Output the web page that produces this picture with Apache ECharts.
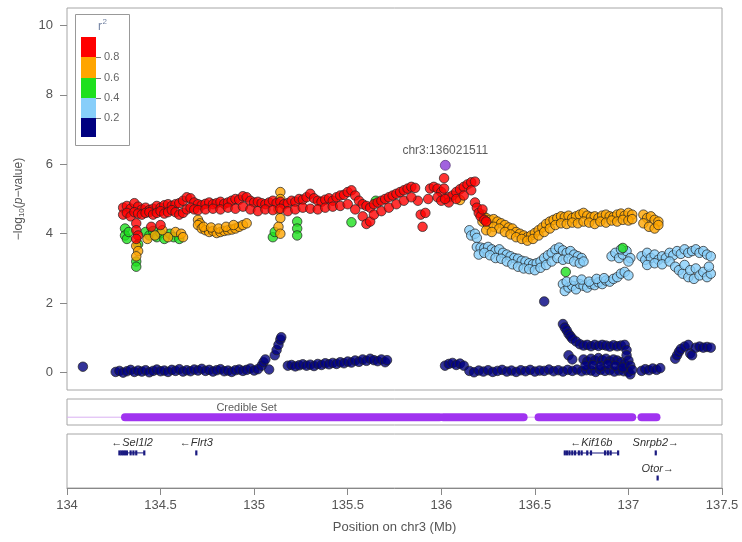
<!DOCTYPE html>
<html><head><meta charset="utf-8">
<script src="https://cdn.jsdelivr.net/npm/echarts@6/dist/echarts.min.js"></script>
<style>html,body{margin:0;padding:0;background:#fff}#c{width:742px;height:542px}</style>
</head><body><div id="c"></div>
<script>
// ---------- DATA ----------
const xTicks = [134, 134.5, 135, 135.5, 136, 136.5, 137, 137.5];
const yTicks = [0, 2, 4, 6, 8, 10];
const r2Labels = ['0.8', '0.6', '0.4', '0.2'];

const leadSnp = [[136.021511, 5.97]];
const leadName = 'chr3:136021511';

const navyPts = [
[134.085,0.17],
[134.26,0.02],[134.28,0.05],[134.30,0.00],[134.32,0.04],[134.34,0.08],[134.36,0.02],[134.38,0.06],[134.40,0.03],[134.42,0.07],[134.44,0.01],[134.46,0.05],[134.48,0.09],[134.50,0.04],[134.52,0.06],[134.54,0.02],[134.56,0.08],[134.58,0.05],[134.60,0.10],[134.62,0.03],[134.64,0.07],[134.66,0.04],[134.68,0.09],[134.70,0.06],[134.72,0.11],[134.74,0.05],[134.76,0.08],[134.78,0.03],[134.80,0.07],[134.82,0.10],[134.84,0.04],[134.86,0.06],[134.88,0.02],[134.90,0.07],[134.92,0.09],[134.94,0.05],[134.96,0.08],[134.98,0.12],[135.00,0.06],[135.02,0.10],
[135.04,0.20],[135.05,0.30],[135.06,0.38],[135.08,0.09],
[135.11,0.50],[135.12,0.65],[135.13,0.80],[135.14,0.95],[135.145,1.02],
[135.18,0.20],[135.20,0.22],[135.22,0.18],[135.24,0.21],[135.26,0.24],[135.28,0.20],[135.30,0.23],[135.32,0.19],[135.34,0.25],[135.36,0.22],[135.38,0.27],[135.40,0.24],[135.42,0.28],[135.44,0.25],[135.46,0.30],[135.48,0.27],[135.50,0.32],[135.52,0.29],[135.54,0.35],[135.56,0.31],[135.58,0.38],[135.60,0.34],[135.62,0.40],[135.64,0.36],[135.66,0.33],[135.68,0.38],[135.70,0.30],[135.71,0.36],
[136.02,0.20],[136.04,0.25],[136.06,0.28],[136.08,0.22],[136.10,0.26],[136.12,0.20],
[136.15,0.05],[136.175,0.01],[136.20,0.06],[136.225,0.03],[136.25,0.07],[136.275,0.02],[136.30,0.05],[136.325,0.08],[136.35,0.03],[136.375,0.06],[136.40,0.02],[136.425,0.07],[136.45,0.04],[136.475,0.08],[136.50,0.03],[136.525,0.06],[136.55,0.05],[136.575,0.09],[136.60,0.04],[136.625,0.07],[136.65,0.03],[136.675,0.08],[136.70,0.05],[136.725,0.09],[136.75,0.04],[136.775,0.07],[136.80,0.06],[136.825,0.02],[136.85,0.08],[136.875,0.05],[136.90,0.07],[136.925,0.03],[136.95,0.06],[136.975,0.04],[137.00,0.02],[137.01,-0.05],
[136.76,0.38],[136.78,0.32],[136.80,0.40],[136.82,0.35],[136.84,0.42],[136.86,0.36],[136.88,0.40],[136.90,0.33],[136.92,0.38],[136.94,0.35],[136.96,0.30],[136.98,0.25],
[136.77,0.20],[136.81,0.22],[136.85,0.18],[136.89,0.24],[136.93,0.20],[136.97,0.15],
[136.68,0.50],[136.70,0.38],
[136.65,1.40],[136.66,1.30],[136.67,1.22],[136.68,1.12],[136.69,1.05],[136.70,0.98],[136.72,0.90],
[136.74,0.82],[136.76,0.78],[136.78,0.80],[136.80,0.76],[136.82,0.80],[136.84,0.77],[136.86,0.80],[136.88,0.78],[136.90,0.75],[136.92,0.79],[136.94,0.76],[136.96,0.78],[136.98,0.80],
[136.99,0.65],[136.99,0.50],[137.00,0.35],[137.01,0.20],[137.02,0.08],
[137.07,0.05],[137.09,0.10],[137.11,0.07],[137.13,0.12],[137.15,0.08],[137.17,0.13],
[137.25,0.40],[137.26,0.50],[137.27,0.60],[137.28,0.68],[137.30,0.75],[137.32,0.80],[137.33,0.55],[137.34,0.50],[137.36,0.72],[137.38,0.75],[137.40,0.72],[137.42,0.74],[137.44,0.72],
[136.55,2.05]
];

const lightBluePts = [
[136.15,4.10],[136.16,3.95],[136.18,4.00],[136.19,3.88],
[136.19,3.62],[136.21,3.60],[136.23,3.58],[136.25,3.62],[136.27,3.55],[136.29,3.50],[136.31,3.55],[136.33,3.45],[136.35,3.40],[136.37,3.35],[136.39,3.30],[136.41,3.28],[136.43,3.22],[136.45,3.20],[136.47,3.15],[136.49,3.12],[136.51,3.15],[136.53,3.20],[136.55,3.30],[136.57,3.38],[136.59,3.45],[136.61,3.55],[136.63,3.60],[136.65,3.52],[136.67,3.45],[136.69,3.50],[136.71,3.40],[136.73,3.35],[136.75,3.30],
[136.20,3.40],[136.23,3.45],[136.26,3.38],[136.29,3.30],[136.32,3.28],[136.35,3.20],[136.38,3.12],[136.41,3.05],[136.44,3.00],[136.47,2.98],[136.50,2.95],[136.53,3.02],[136.56,3.10],[136.59,3.20],[136.62,3.30],[136.65,3.25],[136.68,3.28],[136.71,3.20],[136.74,3.15],[136.76,3.20],
[136.65,2.55],[136.66,2.35],[136.68,2.45],[136.70,2.50],[136.72,2.40],[136.74,2.55],[136.76,2.50],[136.78,2.45],[136.80,2.55],[136.82,2.52],[136.84,2.60],[136.86,2.55],[136.88,2.65],[136.90,2.62],[136.92,2.70],[136.94,2.75],[136.96,2.85],[136.98,2.90],[137.00,2.80],
[136.67,2.62],[136.71,2.65],[136.75,2.68],[136.79,2.62],[136.83,2.70],[136.87,2.72],
[136.91,3.35],[136.93,3.45],[136.95,3.30],[136.97,3.40],[136.99,3.50],[137.01,3.30],[137.00,3.20],[136.96,3.55],
[137.07,3.35],[137.09,3.25],[137.10,3.45],[137.12,3.30],[137.14,3.40],[137.16,3.25],[137.18,3.35],[137.20,3.30],[137.22,3.45],[137.24,3.38],[137.26,3.50],[137.28,3.42],[137.30,3.55],[137.32,3.45],[137.34,3.50],[137.36,3.55],[137.38,3.45],[137.40,3.50],[137.42,3.40],[137.44,3.35],
[137.10,3.10],[137.14,3.15],[137.18,3.12],[137.22,3.20],[137.25,3.05],[137.27,2.95],[137.29,2.85],[137.30,3.10],[137.32,2.75],[137.33,2.95],[137.35,2.70],[137.36,3.00],[137.38,2.80],[137.40,2.90],[137.42,2.75],[137.44,2.85],[137.43,3.05]
];

const greenPts = [
[134.31,4.15],[134.31,3.95],[134.32,3.85],[134.33,4.05],[134.37,3.20],[134.37,3.05],[134.38,3.70],
[134.42,4.05],[134.44,3.95],[134.46,4.08],[134.48,3.90],[134.50,4.02],[134.52,3.85],[134.55,4.00],[134.57,3.90],[134.60,3.85],
[135.10,3.90],[135.11,4.05],[135.23,4.35],[135.23,4.15],[135.23,3.95],[135.52,4.33],[135.65,4.95],
[136.665,2.90],[136.97,3.59]
];

const orangePts = [
[134.37,3.65],[134.38,3.50],[134.37,3.35],[134.43,3.85],[134.47,3.95],[134.51,4.10],[134.54,3.90],[134.58,4.05],[134.61,4.00],[134.62,3.90],
[134.70,4.40],[134.71,4.30],[134.70,4.25],[134.72,4.15],[134.74,4.10],[134.76,4.05],[134.78,4.08],[134.80,4.02],[134.82,4.05],[134.84,4.08],[134.86,4.10],[134.88,4.12],[134.90,4.15],[134.92,4.20],[134.94,4.25],[134.96,4.30],
[134.73,4.20],[134.77,4.18],[134.81,4.15],[134.85,4.20],[134.89,4.25],
[135.14,5.20],[135.14,5.00],[135.13,4.70],[135.14,4.45],[135.13,4.20],[135.14,4.00],
[136.10,4.97],
[136.22,4.55],[136.24,4.45],[136.26,4.40],[136.28,4.42],[136.30,4.35],[136.32,4.30],[136.34,4.25],[136.36,4.18],[136.38,4.15],[136.40,4.05],[136.42,4.00],[136.44,3.95],[136.46,3.90],[136.48,3.95],[136.50,4.02],[136.52,4.10],[136.54,4.18],[136.56,4.28],[136.58,4.35],[136.60,4.40],[136.62,4.45],[136.64,4.50],[136.66,4.48],[136.68,4.52],[136.70,4.45],[136.72,4.50],[136.74,4.55],[136.76,4.60],[136.78,4.52],[136.80,4.48],[136.82,4.50],[136.84,4.45],[136.86,4.52],[136.88,4.55],[136.90,4.50],[136.92,4.48],[136.94,4.55],[136.96,4.58],[136.98,4.52],[137.00,4.60],[137.02,4.55],[137.08,4.55],[137.10,4.45],[137.12,4.50],[137.14,4.40],[137.16,4.35],
[136.22,4.35],[136.25,4.25],[136.28,4.20],[136.31,4.15],[136.34,4.05],[136.37,3.98],[136.40,3.90],[136.43,3.85],[136.46,3.80],[136.49,3.85],[136.52,3.95],[136.55,4.05],[136.58,4.15],[136.61,4.25],[136.64,4.30],[136.67,4.28],[136.70,4.32],[136.73,4.30],[136.76,4.35],[136.79,4.32],[136.82,4.28],[136.85,4.35],[136.88,4.32],[136.91,4.38],[136.94,4.35],[136.97,4.40],[137.00,4.38],[137.02,4.42],[137.08,4.30],[137.11,4.20],[137.14,4.15],[137.16,4.25],
[136.24,4.10],[136.27,4.05]
];

const redPts = [
[134.30,4.75],[134.32,4.80],[134.34,4.72],[134.36,4.88],[134.38,4.78],[134.40,4.70],[134.42,4.75],[134.44,4.68],[134.46,4.72],[134.48,4.80],[134.50,4.75],[134.52,4.82],[134.54,4.85],[134.56,4.80],[134.58,4.85],[134.60,4.88],[134.62,4.95],[134.64,5.05],[134.66,5.02],[134.68,4.90],[134.70,4.85],[134.72,4.82],[134.74,4.86],[134.76,4.90],[134.78,4.85],[134.80,4.88],[134.82,4.92],[134.84,4.86],[134.86,4.90],[134.88,4.95],[134.90,5.00],[134.92,4.98],[134.94,5.08],[134.96,5.05],[134.98,4.95],[135.00,4.90],[135.02,4.92],[135.04,4.88],[135.06,4.85],[135.08,4.90],[135.10,4.95],[135.12,4.88],[135.14,4.92],[135.16,4.85],[135.18,4.88],[135.20,4.95],[135.22,4.92],[135.24,5.00],[135.26,4.98],[135.28,5.05],[135.30,5.15],[135.32,5.02],[135.34,4.95],[135.36,4.92],[135.38,4.98],[135.40,5.02],[135.42,4.95],[135.44,5.05],[135.46,5.10],[135.48,5.12],[135.50,5.20],[135.52,5.25],[135.54,5.10],[135.56,4.95],[135.58,4.85],[135.60,4.80],[135.62,4.75],[135.64,4.85],[135.66,4.90],[135.68,4.95],[135.70,5.00],[135.72,5.05],[135.74,5.10],[135.76,5.15],[135.78,5.20],[135.80,5.25],[135.82,5.30],[135.84,5.35],[135.86,5.32],[135.875,4.95],[135.89,4.55],[135.90,4.20],[135.915,4.60],[135.93,5.00],[135.94,5.30],[135.96,5.35],[135.98,5.30],[136.00,5.20],[136.04,5.05],[136.06,5.10],[136.08,5.20],[136.10,5.28],[136.12,5.35],[136.14,5.42],[136.16,5.48],[136.18,5.50],
[134.30,4.55],[134.32,4.60],[134.34,4.50],[134.36,4.62],[134.38,4.58],[134.40,4.55],[134.42,4.60],[134.44,4.62],[134.46,4.55],[134.48,4.60],[134.50,4.65],[134.52,4.58],[134.54,4.62],[134.56,4.68],[134.58,4.62],[134.60,4.55],[134.62,4.60],[134.64,4.70],[134.66,4.75],[134.68,4.70],[134.70,4.68],[134.74,4.70],[134.78,4.72],[134.82,4.70],[134.86,4.75],[134.90,4.72],[134.94,4.78],[134.98,4.70],[135.02,4.65],[135.06,4.70],[135.10,4.68],[135.14,4.72],[135.18,4.65],[135.22,4.70],[135.26,4.75],[135.30,4.72],[135.34,4.70],[135.38,4.75],[135.42,4.78],[135.46,4.80],[135.50,4.85],[135.54,4.70],[135.58,4.50],[135.60,4.28],[135.62,4.35],[135.64,4.55],[135.68,4.65],[135.72,4.75],[135.76,4.85],[135.80,4.95],[135.84,5.05],[135.98,5.05],[136.00,4.95],[136.04,4.90],[136.08,5.00],[136.12,5.10],[136.16,5.25],
[134.37,4.30],[134.37,4.10],[134.38,3.95],[134.37,3.85],[134.45,4.20],[134.50,4.25],
[136.015,5.60],[136.015,5.30],[136.02,5.00],
[136.18,4.90],[136.19,4.75],[136.20,4.60],[136.21,4.50],[136.22,4.70],[136.23,4.40],[136.24,4.35]
];

const credibleStarts = [134.31, 136.01, 136.52, 137.07];
const credibleEnds   = [135.99, 136.44, 137.02, 137.15];
const credibleLineRange = [134.0, 137.16];

const geneNames   = ['Sel1l2', 'Flrt3', 'Kif16b', 'Snrpb2', 'Otor'];
const geneStarts  = [134.28, 134.688, 136.655, 137.143, 137.155];
const geneEnds    = [134.415, 134.694, 136.948, 137.150, 137.158];
const geneStrands = ['-', '-', '-', '+', '+'];
const geneRows    = [0, 0, 0, 0, 1];
const geneExons   = [
  [134.28,134.29,134.30,134.31,134.32,134.34,134.355,134.37,134.413],
  [134.691],
  [136.66,136.672,136.685,136.70,136.715,136.735,136.75,136.78,136.80,136.875,136.89,136.905,136.945],
  [137.146],
  [137.156]
];

// ---------- STYLE ----------
const FONT = '"Liberation Sans", Arial, sans-serif';
const C = {navy:'#000080', lb:'#87CEFA', green:'#1EE01E', orange:'#FFA500', red:'#FF0000', lead:'#8A3CD6', cred:'#A033F0'};
const rowY = [0.65, 0.185];

function scatter(data, color, size) {
  return {type:'scatter', xAxisIndex:0, yAxisIndex:0, data:data, symbolSize:size||9.5,
    itemStyle:{color:color, borderColor:'rgba(35,35,35,0.9)', borderWidth:1}, silent:true};
}

const series = [
  scatter(navyPts, C.navy),
  scatter(lightBluePts, C.lb),
  scatter(greenPts, C.green),
  scatter(orangePts, C.orange),
  scatter(redPts, C.red),
  {type:'scatter', xAxisIndex:0, yAxisIndex:0, data:leadSnp, symbolSize:10, z:5,
    itemStyle:{color:C.lead, borderColor:'rgba(60,30,90,0.9)', borderWidth:0.8},
    label:{show:true, position:'top', distance:3, formatter:leadName, fontSize:12, color:'#333', fontFamily:FONT}},
  {type:'line', xAxisIndex:1, yAxisIndex:1, symbol:'none', silent:true,
    data:[[credibleLineRange[0],0.3],[credibleLineRange[1],0.3]], lineStyle:{color:'#d9b0f2', width:1}}
];
credibleStarts.forEach(function(s, i){
  series.push({type:'line', xAxisIndex:1, yAxisIndex:1, symbol:'none', silent:true,
    data:[[s,0.3],[credibleEnds[i],0.3]], lineStyle:{color:C.cred, width:8, cap:'round'}});
});
series.push({type:'scatter', xAxisIndex:1, yAxisIndex:1, data:[[134.96,0.65]], symbolSize:0, silent:true,
  label:{show:true, position:'inside', formatter:'Credible Set', fontSize:11, color:'#333', fontFamily:FONT}});
series.push({type:'custom', xAxisIndex:2, yAxisIndex:2, silent:true,
  data: geneNames.map(function(n,i){ return [geneStarts[i], rowY[geneRows[i]], i]; }),
  encode:{x:0, y:1},
  renderItem:function(params, api){
    const i = api.value(2);
    const y = rowY[geneRows[i]];
    const a = api.coord([geneStarts[i], y]);
    const b = api.coord([geneEnds[i], y]);
    const ch = [{type:'rect', shape:{x:a[0], y:a[1]-0.5, width:Math.max(b[0]-a[0],1), height:1}, style:{fill:'#1a1a80'}}];
    geneExons[i].forEach(function(ex){
      const p = api.coord([ex, y]);
      ch.push({type:'rect', shape:{x:p[0]-1.1, y:p[1]-2.5, width:2.2, height:5}, style:{fill:'#1a1a80'}});
    });
    const m = api.coord([(geneStarts[i]+geneEnds[i])/2, y]);
    const txt = geneStrands[i] === '-' ? '\u2190' + geneNames[i] : geneNames[i] + '\u2192';
    ch.push({type:'text', x:m[0], y:m[1]-9.5, style:{text:txt, fill:'#333', font:'italic 11px ' + FONT,
      align:'center', verticalAlign:'middle', textAlign:'center', textVerticalAlign:'middle'}});
    return {type:'group', children:ch};
  }
});

// legend graphic
const legendColors = [C.red, C.orange, C.green, C.lb, C.navy];
const legendTops = [37, 57, 78, 98, 118, 137];
const graphic = [{type:'rect', shape:{x:75.5, y:14.5, width:54, height:131}, style:{fill:'#fff', stroke:'#999', lineWidth:1}, z:10}];
legendColors.forEach(function(c,i){
  graphic.push({type:'rect', shape:{x:81, y:legendTops[i], width:15, height:legendTops[i+1]-legendTops[i]}, style:{fill:c}, z:11});
});
r2Labels.forEach(function(t,i){
  const y = legendTops[i+1];
  graphic.push({type:'line', shape:{x1:96, y1:y+0.5, x2:101, y2:y+0.5}, style:{stroke:'#777', lineWidth:1}, z:11});
  graphic.push({type:'text', x:104, y:y, style:{text:t, fill:'#666', font:'11px ' + FONT, textVerticalAlign:'middle', verticalAlign:'middle'}, z:11});
});
graphic.push({type:'text', x:98, y:27, style:{text:'r', fill:'#7383a3', font:'12px ' + FONT, textVerticalAlign:'middle', verticalAlign:'middle'}, z:11});
graphic.push({type:'text', x:102.5, y:22, style:{text:'2', fill:'#7383a3', font:'8px ' + FONT, textVerticalAlign:'middle', verticalAlign:'middle'}, z:11});

const option = {
  animation:false,
  backgroundColor:'#fff',
  textStyle:{fontFamily:FONT},
  grid:[
    {left:67, top:8, width:655, height:382, show:true, borderColor:'#a6a6a6', borderWidth:1, backgroundColor:'#fff'},
    {left:67, top:399, width:655, height:26, show:true, borderColor:'#a6a6a6', borderWidth:1},
    {left:67, top:434, width:655, height:54, show:true, borderColor:'#a6a6a6', borderWidth:1}
  ],
  xAxis:[
    {type:'value', gridIndex:0, min:134, max:137.5, show:false},
    {type:'value', gridIndex:1, min:134, max:137.5, show:false},
    {type:'value', gridIndex:2, min:134, max:137.5, interval:0.5,
      axisLine:{show:true, lineStyle:{color:'#888'}},
      axisTick:{show:true, length:7, lineStyle:{color:'#888'}},
      axisLabel:{fontSize:13, color:'#555', margin:11, fontFamily:FONT},
      splitLine:{show:false},
      name:'Position on chr3 (Mb)', nameLocation:'middle', nameGap:33,
      nameTextStyle:{fontSize:13, color:'#555', fontFamily:FONT}}
  ],
  yAxis:[
    {type:'value', gridIndex:0, min:-0.5, max:10.5,
      axisLine:{show:false},
      axisTick:{show:true, length:7, customValues:yTicks, lineStyle:{color:'#888'}},
      axisLabel:{fontSize:13, color:'#555', margin:14, customValues:yTicks, fontFamily:FONT},
      splitLine:{show:false},
      name:'\u2212log{s|10}({i|p}\u2212value)', nameLocation:'middle', nameGap:41, nameRotate:90,
      nameTextStyle:{fontSize:12, color:'#555', fontFamily:FONT,
        rich:{s:{fontSize:8, color:'#555', verticalAlign:'bottom', padding:[6,0,0,0]}, i:{fontSize:12, color:'#555', fontStyle:'italic'}}}},
    {type:'value', gridIndex:1, min:0, max:1, show:false},
    {type:'value', gridIndex:2, min:0, max:1, show:false}
  ],
  series:series,
  graphic:graphic
};

const chart = echarts.init(document.getElementById('c'), null, {renderer:'canvas'});
chart.setOption(option);
</script></body></html>
